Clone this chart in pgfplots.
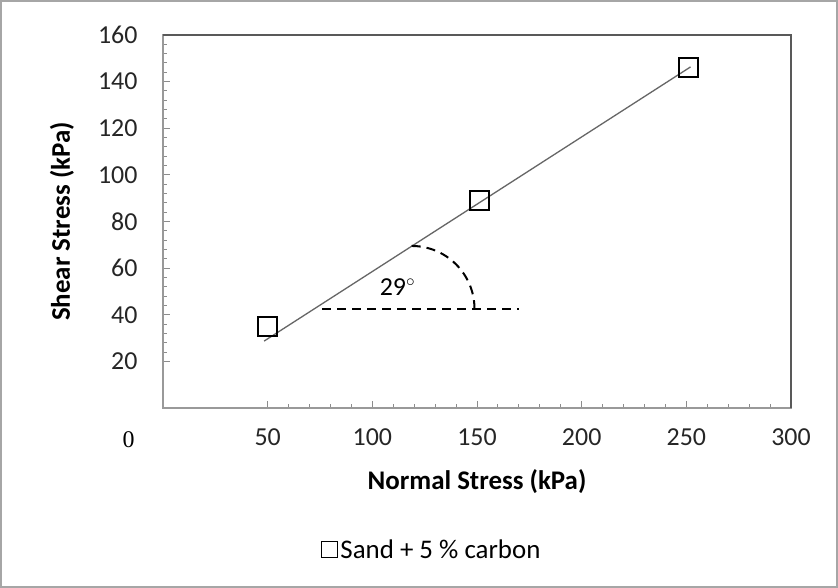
\documentclass[border=0pt]{standalone}
\usepackage{pgfplots}
\pgfplotsset{compat=1.18}
\usepackage{fontspec}
\setmainfont{Carlito}
\newfontfamily\seriffont{Liberation Serif}
\begin{document}
\begin{tikzpicture}[x=1bp,y=1bp]
\fill[white] (0,0) rectangle (838,588);
\draw[black!35, line width=1.5bp] (1,1) rectangle (837,587);
\begin{axis}[
  at={(163bp,180bp)}, anchor=south west,
  width=628bp, height=373bp, scale only axis,
  xmin=0, xmax=300, ymin=0, ymax=160,
  xtick={50,100,...,300}, ytick={20,40,...,160},
  minor x tick num=4, minor y tick num=4,
  tick align=inside, major tick length=7bp, minor tick length=4bp,
  every tick/.style={black!45, line width=1bp},
  xtick pos=bottom, ytick pos=left,
  axis line style={black!40, line width=1.5bp},
  /pgf/number format/assume math mode=true,
  ticklabel style={font=\fontsize{26}{30}\selectfont, text=black!85},
  yticklabel style={xshift=-22bp},
  xticklabel style={yshift=-17bp},
  xlabel={\bfseries Normal Stress (kPa)},
  ylabel={\bfseries Shear Stress (kPa)},
  label style={font=\fontsize{27}{31}\selectfont},
  xlabel style={at={(axis description cs:0.5,-0.198)}, anchor=center},
  ylabel style={at={(axis description cs:-0.161,0.5)}, anchor=center},
  clip=false,
  legend style={at={(0.428,-0.38)}, anchor=center, draw=none, fill=none,
    font=\fontsize{27}{31}\selectfont, inner sep=0pt,
    /tikz/every even column/.append style={column sep=0bp}},
  legend image code/.code={\draw[black, line width=1.3bp] (-4bp,-8bp) rectangle (12bp,8bp);},
]
\addplot[black!60, line width=1.3bp, forget plot] coordinates {(48.3,28.7) (252,146.3)};
\addplot[only marks, mark=square, mark size=9.5bp, mark options={line width=2bp, black}] coordinates {(50,35) (151,89) (251,146)};
\addlegendentry{Sand + 5 \% carbon}
\draw[black, line width=2bp, dash pattern=on 9bp off 6bp] (axis cs:76,42.5) -- (axis cs:170,42.5);
\draw[black, line width=2bp, dash pattern=on 9bp off 6bp] (axis cs:118.8,69.5) .. controls (axis cs:135.4,69.5) and (axis cs:148.8,57.4) .. (axis cs:148.8,42.5);
\node[font=\fontsize{26}{30}\selectfont] at (axis cs:112,52) {29$^{\circ}$};
\node[font=\seriffont\fontsize{24}{28}\selectfont] at (axis cs:-16.4,-13.7) {0};
\draw[black!65, line width=1.5bp] (rel axis cs:0,1) -- (rel axis cs:1,1) -- (rel axis cs:1,0);
\end{axis}
\end{tikzpicture}
\end{document}
